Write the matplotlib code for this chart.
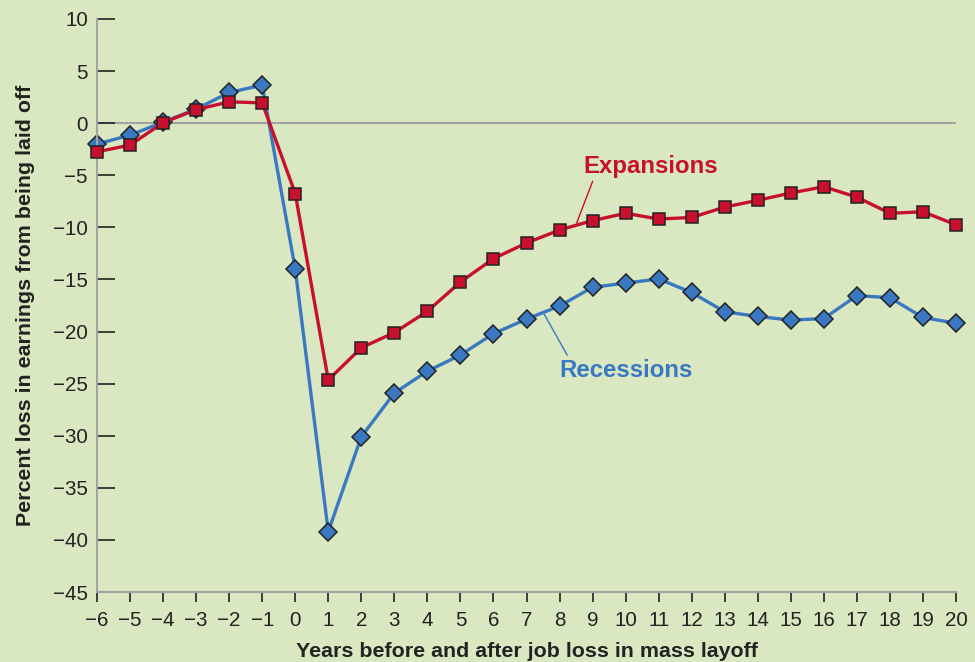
import matplotlib
matplotlib.use("Agg")
import matplotlib.pyplot as plt

years = list(range(-6, 21))
expansions = [-2.75, -2.1, 0.05, 1.3, 2.05, 1.95, -6.75, -24.65, -21.55, -20.1, -18.05,
              -15.25, -13.0, -11.5, -10.25, -9.35, -8.65, -9.2, -9.05, -8.05, -7.4,
              -6.7, -6.1, -7.1, -8.65, -8.5, -9.75]
recessions = [-2.0, -1.15, 0.1, 1.35, 2.95, 3.65, -14.0, -39.2, -30.1, -25.9, -23.8,
              -22.25, -20.2, -18.8, -17.55, -15.75, -15.35, -14.95, -16.25, -18.1, -18.55,
              -18.9, -18.75, -16.55, -16.75, -18.65, -19.2]
yticks = list(range(-45, 11, 5))

BG = "#d9e8c0"
RED = "#c8102e"
BLUE = "#3a78c2"
GRAY = "#a3a3a3"
DARK = "#222222"

plt.rcParams['font.family'] = ['Liberation Sans', 'DejaVu Sans']

fig = plt.figure(figsize=(9.75, 6.62), dpi=100, facecolor=BG)
ax = fig.add_axes([0.0995, 0.1057, 0.881, 0.8656], facecolor=BG)

ax.axhline(0, color=GRAY, lw=1.5, zorder=1)

ax.plot(years, expansions, color=RED, lw=2.4, marker='s', ms=8.8,
        mfc=RED, mec=DARK, mew=1.1, zorder=3, clip_on=False)
ax.plot(years, recessions, color=BLUE, lw=2.4, marker='D', ms=9.5,
        mfc=BLUE, mec=DARK, mew=1.1, zorder=2, clip_on=False)

ax.set_xlim(-6, 20)
ax.set_ylim(-45, 10)
ax.set_xticks(years)
ax.set_xticklabels([str(v).replace('-', '\u2212') for v in years])
ax.set_yticks(yticks)
ax.set_yticklabels([str(v).replace('-', '\u2212') for v in yticks])

for s in ['top', 'right']:
    ax.spines[s].set_visible(False)
for s in ['left', 'bottom']:
    ax.spines[s].set_color(GRAY)
    ax.spines[s].set_linewidth(1.5)

ax.tick_params(axis='y', direction='in', length=13, width=1.2, color=DARK,
               labelsize=14.8, labelcolor=DARK, pad=6.5)
ax.tick_params(axis='x', direction='out', length=7.5, width=1.2, color=DARK,
               labelsize=14.8, labelcolor=DARK, pad=6.5)

ax.set_xlabel("Years before and after job loss in mass layoff", fontsize=15.4,
              fontweight='bold', color=DARK, labelpad=8)
ax.set_ylabel("Percent loss in earnings from being laid off", fontsize=15.4,
              fontweight='bold', color=DARK, labelpad=13)

ax.plot([9.0, 8.52], [-5.6, -9.56], color=RED, lw=1.0, zorder=4)
ax.text(10.76, -4.2, "Expansions", color=RED, fontsize=17.3, fontweight='bold',
        ha='center', va='center')
ax.plot([7.53, 8.23], [-18.3, -22.25], color=BLUE, lw=1.0, zorder=4)
ax.text(10.01, -23.7, "Recessions", color=BLUE, fontsize=17.3, fontweight='bold',
        ha='center', va='center')

fig.savefig("out.png", dpi=100, facecolor=BG)
